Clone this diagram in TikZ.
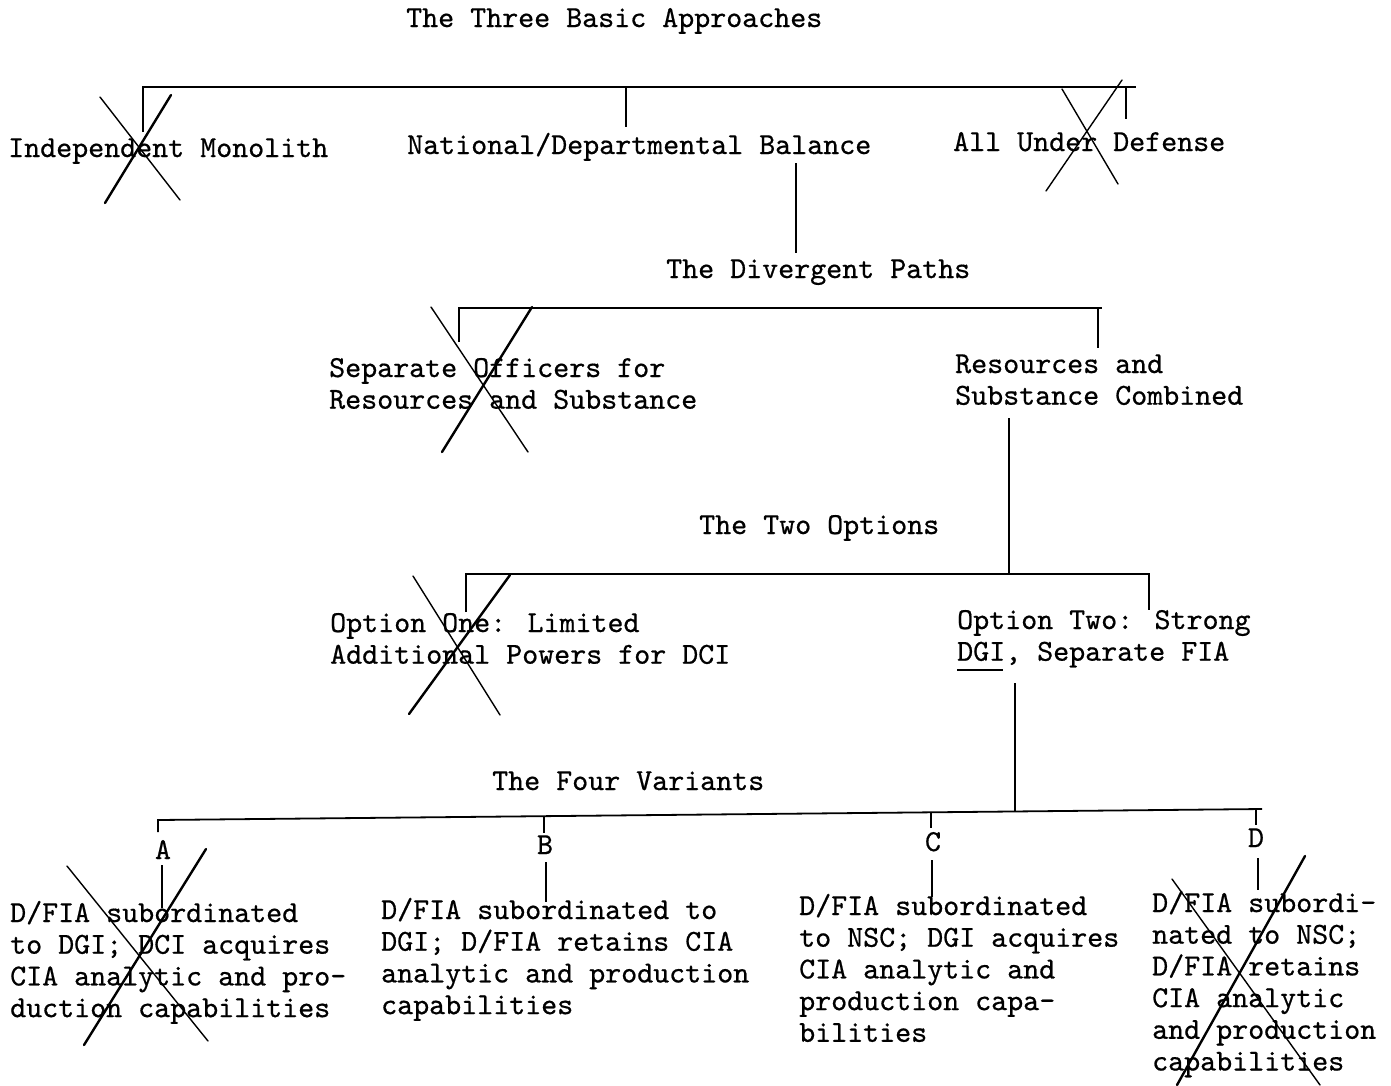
\documentclass[tikz,border=0pt]{standalone}
\usepackage{fontspec}
\newfontfamily\typewr{lmmono10-regular}[Extension=.otf, FakeBold=0.6]
\usetikzlibrary{calc}
\begin{document}
\begin{tikzpicture}[x=1pt,y=-1pt,
  lbl/.style={anchor=base west, inner sep=0pt, font=\typewr\fontsize{30.48pt}{31.7pt}\selectfont},
  letter/.style={anchor=base, inner sep=0pt, font=\typewr\fontsize{30.48pt}{31.7pt}\selectfont},
  bar/.style={line width=1.8pt, line join=miter},
  tick/.style={line width=1.2pt},
  crossthick/.style={line width=2.4pt, line cap=round},
  crossthin/.style={line width=1.4pt, line cap=round}]
\useasboundingbox[fill=white] (0,0) rectangle (1391,1085);

% ---------- texts ----------
\node[lbl] (title) at (406,27) {The Three Basic Approaches};
\node[lbl] (mono) at (8,157) {Independent Monolith};
\node[lbl] (natl) at (407,154) {National/Departmental Balance};
\node[lbl] (def) at (953,151) {All Under Defense};
\node[lbl] (div) at (666,278) {The Divergent Paths};
\node[lbl] (sep) at (329,377) {\vtop{\hbox{Separate Officers for}\hbox{Resources and Substance}}};
\node[lbl] (comb) at (955,373) {\vtop{\hbox{Resources and}\hbox{Substance Combined}}};
\node[lbl] (two) at (699,534) {The Two Options};
\node[lbl] (opt1) at (330,632) {\vtop{\hbox{Option One:  Limited}\hbox{Additional Powers for DCI}}};
\node[lbl] (opt2) at (957,629) {\vtop{\hbox{Option Two:  Strong}\hbox{\rlap{\rule[-10pt]{46pt}{1.4pt}}DGI, Separate FIA}}};
\node[lbl] (four) at (492,790) {The Four Variants};
\node[letter] (la) at (163,859) {A};
\node[letter] (lb) at (545,854) {B};
\node[letter] (lc) at (933,851) {C};
\node[letter] (ld) at (1256,847) {D};
\node[lbl] (va) at (10,922) {\vtop{\hbox{D/FIA subordinated}\hbox{to DGI; DCI acquires}\hbox{CIA analytic and pro-}\hbox{duction capabilities}}};
\node[lbl] (vb) at (381,919) {\vtop{\hbox{D/FIA subordinated to}\hbox{DGI; D/FIA retains CIA}\hbox{analytic and production}\hbox{capabilities}}};
\node[lbl] (vc) at (799,915) {\vtop{\hbox{D/FIA subordinated}\hbox{to NSC; DGI acquires}\hbox{CIA analytic and}\hbox{production capa-}\hbox{bilities}}};
\node[lbl] (vd) at (1152,912) {\vtop{\hbox{D/FIA subordi-}\hbox{nated to NSC;}\hbox{D/FIA retains}\hbox{CIA analytic}\hbox{and production}\hbox{capabilities}}};

% ---------- level 1 ----------
\coordinate (b1L) at (143,87);
\coordinate (b1R) at (1136,87);
\coordinate (b1Lt) at (143,132);
\coordinate (b1M) at (626,87);
\coordinate (b1Mt) at (626,127);
\coordinate (b1Ri) at (1126,87);
\coordinate (b1Rt) at (1126,119);
\draw[bar] (b1Lt) -- (b1L) -- (b1R);
\draw[tick] (b1M) -- (b1Mt);
\draw[tick] (b1Ri) -- (b1Rt);
\coordinate (c1a) at (796,163);
\coordinate (c1b) at (796,253);
\draw[tick] (c1a) -- (c1b);

% ---------- level 2 ----------
\coordinate (b2L) at (459,308);
\coordinate (b2R) at (1102,308);
\coordinate (b2Lt) at (459,342);
\coordinate (b2Ri) at (1098,308);
\coordinate (b2Rt) at (1098,348);
\draw[bar] (b2Lt) -- (b2L) -- (b2R);
\draw[tick] (b2Ri) -- (b2Rt);

% ---------- level 3 ----------
\coordinate (c2a) at (1009,418);
\coordinate (b3L) at (466,574);
\coordinate (b3R) at (1150,574);
\coordinate (b3Lt) at (466,612);
\coordinate (b3Ri) at (1149,574);
\coordinate (b3Rt) at (1149,610);
\coordinate (c2b) at (1009,574);
\draw[tick] (c2a) -- (c2b);
\draw[bar] (b3Lt) -- (b3L) -- (b3R);
\draw[tick] (b3Ri) -- (b3Rt);

% ---------- level 4 ----------
\coordinate (c3a) at (1015,683);
\coordinate (c3b) at (1015,811.5);
\draw[tick] (c3a) -- (c3b);
\coordinate (b4L) at (158,820);
\coordinate (b4R) at (1262,809);
\coordinate (b4Lt) at (158,832);
\draw[bar] (b4Lt) -- (b4L) -- (b4R);
\coordinate (tb1) at (544,816.2);
\coordinate (tb2) at (544,833);
\coordinate (tc1) at (931,812.3);
\coordinate (tc2) at (931,828);
\coordinate (td1) at (1256,809.1);
\coordinate (td2) at (1256,825);
\draw[tick] (tb1) -- (tb2);
\draw[tick] (tc1) -- (tc2);
\draw[tick] (td1) -- (td2);
\coordinate (ua1) at (162,865);
\coordinate (ua2) at (162,908);
\coordinate (ub1) at (546,862);
\coordinate (ub2) at (546,902);
\coordinate (uc1) at (932,860);
\coordinate (uc2) at (932,897);
\coordinate (ud1) at (1258,858);
\coordinate (ud2) at (1258,890);
\draw[tick] (ua1) -- (ua2);
\draw[tick] (ub1) -- (ub2);
\draw[tick] (uc1) -- (uc2);
\draw[tick] (ud1) -- (ud2);

% ---------- crossing-out marks ----------
\draw[crossthin] (100,97) -- (180,200);
\draw[crossthick] (171,95) -- (105,203);
\draw[crossthin] (1062,89) -- (1118,184);
\draw[crossthin] (1122,80) -- (1046,191);
\draw[crossthin] (431,307) -- (528,452);
\draw[crossthick] (532,307) -- (442,452);
\draw[crossthin] (413,576) -- (500,715);
\draw[crossthick] (510,575) -- (409,714);
\draw[crossthin] (67,866) -- (208,1041);
\draw[crossthick] (206,849) -- (84,1045);
\draw[crossthin] (1172,879) -- (1320,1085);
\draw[crossthick] (1305,856) -- (1177,1085);
\end{tikzpicture}
\end{document}
